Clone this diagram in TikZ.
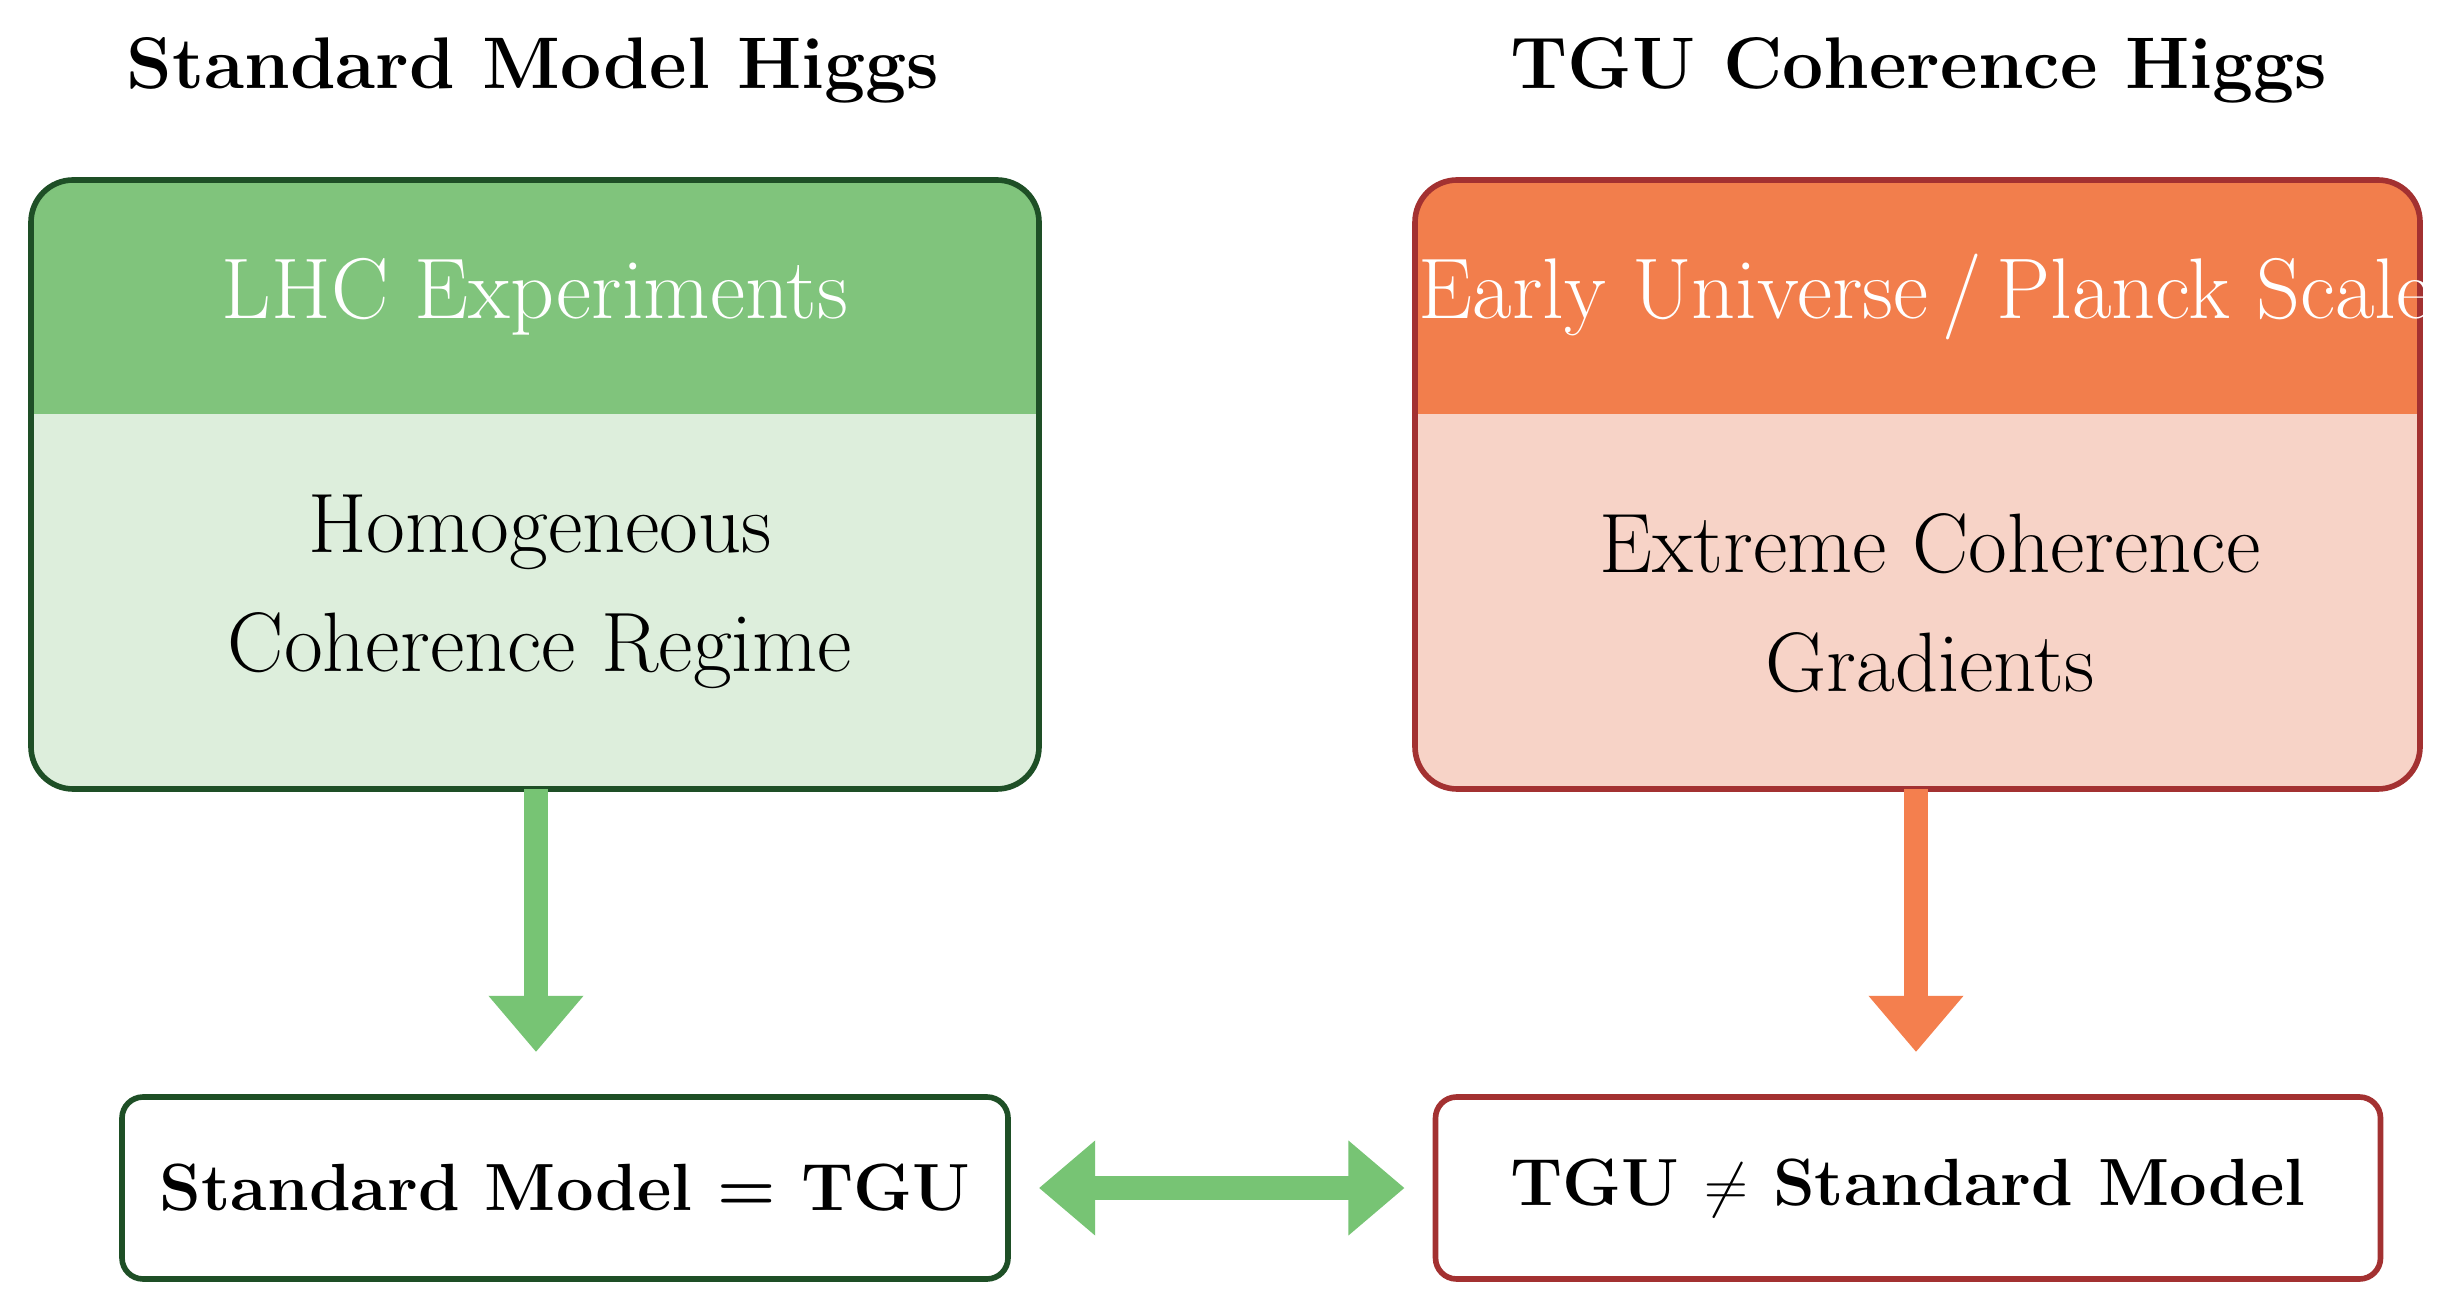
\documentclass[tikz,border=0pt]{standalone}
\usetikzlibrary{arrows.meta}
\definecolor{ghead}{HTML}{80C47C}
\definecolor{gbody}{HTML}{DDEEDC}
\definecolor{gdark}{HTML}{1E4F26}
\definecolor{ohead}{HTML}{F27E4C}
\definecolor{obody}{HTML}{F7D3C7}
\definecolor{odark}{HTML}{A33131}
\definecolor{garr}{HTML}{77C474}
\definecolor{oarr}{HTML}{F47F4E}
\tikzset{
 title/.style={font=\fontsize{20.8}{25}\selectfont\bfseries},
 headtxt/.style={font=\fontsize{24.5}{28}\selectfont,text=white},
 bodytxt/.style={font=\fontsize{24}{34}\selectfont,align=center},
 result/.style={draw,line width=1.6pt,rounded corners=6pt,minimum width=#1,minimum height=1.82cm,font=\fontsize{19}{23}\selectfont\bfseries},
 bigarrow/.style={line width=7pt,-{Triangle[length=16pt,width=26pt]}},
}
\begin{document}
\begin{tikzpicture}
\useasboundingbox[fill=white] (0,0) rectangle (24.51,13.10);
\node[title] (t1) at (5.33,12.40) {Standard Model Higgs};
\node[title] (t2) at (19.19,12.40) {TGU Coherence Higgs};
% left box
\begin{scope}
\clip[rounded corners=12pt] (0.31,5.21) rectangle (10.39,11.30);
\fill[gbody] (0.31,5.21) rectangle (10.39,8.96);
\fill[ghead] (0.31,8.96) rectangle (10.39,11.30);
\end{scope}
\draw[gdark,line width=1.6pt,rounded corners=12pt] (0.31,5.21) rectangle (10.39,11.30);
\node[headtxt] (h1) at (5.35,10.13) {LHC Experiments};
\node[bodytxt] (b1) at (5.40,7.18) {Homogeneous\\Coherence Regime};
\coordinate (l1) at (5.36,5.21);
% right box
\begin{scope}
\clip[rounded corners=12pt] (14.15,5.21) rectangle (24.20,11.30);
\fill[obody] (14.15,5.21) rectangle (24.20,8.96);
\fill[ohead] (14.15,8.96) rectangle (24.20,11.30);
\end{scope}
\draw[odark,line width=1.6pt,rounded corners=12pt] (14.15,5.21) rectangle (24.20,11.30);
\node[headtxt] (h2) at (19.25,10.13) {Early Universe\,/\,Planck Scale};
\node[bodytxt] (b2) at (19.30,7.07) {Extreme Coherence\\Gradients};
\coordinate (l2) at (19.16,5.21);
% results
\node[result=8.86cm,gdark] (r1) at (5.65,1.22) {\textcolor{black}{Standard Model = TGU}};
\node[result=9.45cm,odark] (r2) at (19.08,1.22) {\textcolor{black}{TGU $\neq$ Standard Model}};
\draw[bigarrow,garr] (l1) -- ([yshift=12pt]r1.north -| l1);
\draw[bigarrow,oarr] (l2) -- ([yshift=12pt]r2.north -| l2);
\draw[garr,line width=7pt,{Triangle[length=16pt,width=26pt]}-{Triangle[length=16pt,width=26pt]}] ([xshift=8pt]r1.east) -- ([xshift=-8pt]r2.west);
\end{tikzpicture}
\end{document}
